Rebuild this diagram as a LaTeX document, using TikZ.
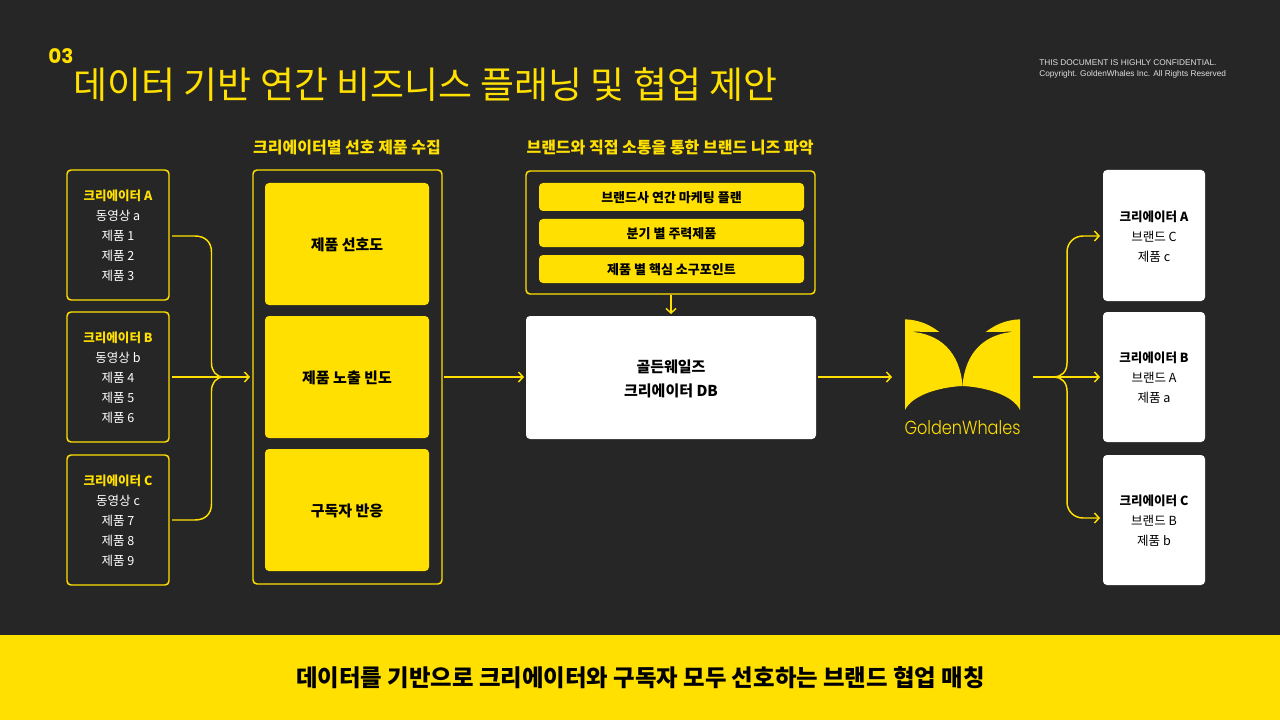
\documentclass[tikz,border=0pt]{standalone}
\usepackage{fontspec}
\usetikzlibrary{arrows.meta,calc}
\setmainfont{Noto Sans CJK KR}
\newfontfamily\latinui{Liberation Sans}
\newfontfamily\gwfont{Poppins Light}
\newfontfamily\numfont{Poppins}
\definecolor{bgdark}{HTML}{262626}
\definecolor{gold}{HTML}{FFE000}
\newcommand{\px}[2]{\fontsize{#1pt}{#2pt}\selectfont}
\tikzset{
  x=0.75pt,y=-0.75pt,
  base/.style={inner sep=0pt,outer sep=0pt,align=center,rounded corners=3pt},
  outline/.style={base,draw=gold,line width=1.1pt,text=white,font=\px{9.4}{15}},
  panel/.style={base,draw=gold,line width=1.1pt},
  goldbox/.style={base,fill=gold,text=black,font=\bfseries\px{11.25}{15}},
  goldbar/.style={base,fill=gold,text=black,font=\bfseries\px{9.75}{15}},
  whitebox/.style={base,fill=white,text=black,font=\px{9.4}{15}},
  dbbox/.style={base,fill=white,text=black,font=\bfseries\px{11.25}{18}},
  head/.style={inner sep=0pt,text=gold,font=\bfseries\px{12}{15}},
  conn/.style={draw=gold,line width=1.1pt,-{Straight Barb[length=3.4pt,width=7.5pt]}},
  plain/.style={draw=gold,line width=1.1pt},
}
\newcommand{\bx}[7]{%
  \pgfmathsetmacro{\boxw}{(#4-#2)*0.75}\pgfmathsetmacro{\boxh}{(#5-#3)*0.75}%
  \node[#6,minimum width=\boxw pt,minimum height=\boxh pt] (#1) at ({(#2+#4)/2},{(#3+#5)/2}) {};
  \node[#6,draw=none,fill=none] (#1t) at ([yshift=-0.75pt]#1.center) {#7};}
\begin{document}
\begin{tikzpicture}
\useasboundingbox (0,0) rectangle (1280,720);
\fill[bgdark] (0,0) rectangle (1280,720);
\fill[gold] (0,635) rectangle (1280,720);
% titles
\node[inner sep=0pt,anchor=west,text=gold,font=\numfont\bfseries\px{15}{15}] (num) at (48,56) {03};
\node[inner sep=0pt,anchor=west,text=gold,font=\px{27.7}{30}] (title) at (73.5,84.5) {데이터 기반 연간 비즈니스 플래닝 및 협업 제안};
\node[inner sep=0pt,anchor=west,align=left,text=white!88!black,font=\latinui\px{6.22}{8.4}] (conf) at (1039,69) {THIS DOCUMENT IS HIGHLY CONFIDENTIAL.\\Copyright. GoldenWhales Inc. All Rights Reserved};
\node[head] (h1) at (347,147.5) {크리에이터별 선호 제품 수집};
\node[head] (h2) at (670,147.5) {브랜드와 직접 소통을 통한 브랜드 니즈 파악};
\node[inner sep=0pt,text=black,font=\bfseries\px{17.55}{20}] (foot) at (640.5,678) {데이터를 기반으로 크리에이터와 구독자 모두 선호하는 브랜드 협업 매칭};
% left boxes
\bx{la}{67}{170}{169}{300}{outline}{{\bfseries\color{gold}크리에이터 A}\\동영상 a\\제품 1\\제품 2\\제품 3}
\bx{lb}{67}{312}{169}{442}{outline}{{\bfseries\color{gold}크리에이터 B}\\동영상 b\\제품 4\\제품 5\\제품 6}
\bx{lc}{67}{455}{169}{585}{outline}{{\bfseries\color{gold}크리에이터 C}\\동영상 c\\제품 7\\제품 8\\제품 9}
% middle panel
\bx{mid}{253}{170}{442}{584}{panel}{}
\bx{m1}{265}{183}{429}{305}{goldbox}{제품 선호도}
\bx{m2}{265}{316}{429}{438}{goldbox}{제품 노출 빈도}
\bx{m3}{265}{449}{429}{571}{goldbox}{구독자 반응}
% brand panel
\bx{br}{526}{171}{815}{294}{panel}{}
\bx{b1}{539}{183}{804}{211}{goldbar}{브랜드사 연간 마케팅 플랜}
\bx{b2}{539}{219}{804}{247}{goldbar}{분기 별 주력제품}
\bx{b3}{539}{255}{804}{283}{goldbar}{제품 별 핵심 소구포인트}
\bx{db}{526}{316}{816}{439}{dbbox}{골든웨일즈\\크리에이터 DB}
% right boxes
\bx{ra}{1103}{170}{1205}{301}{whitebox}{{\bfseries 크리에이터 A}\\브랜드 C\\제품 c}
\bx{rb}{1103}{312}{1205}{442}{whitebox}{{\bfseries 크리에이터 B}\\브랜드 A\\제품 a}
\bx{rc}{1103}{455}{1205}{585}{whitebox}{{\bfseries 크리에이터 C}\\브랜드 B\\제품 b}
% logo
\fill[gold] (905,319.3) .. controls (920,320) and (930,325) .. (939.3,332) -- (908.5,331.6)
  .. controls (940,333) and (960,352) .. (962.5,386) .. controls (940,387) and (912,395) .. (905,410) -- cycle;
\fill[gold] (1020,319.3) .. controls (1005,320) and (995,325) .. (985.7,332) -- (1016.5,331.6)
  .. controls (985,333) and (965,352) .. (962.5,386) .. controls (985,387) and (1013,395) .. (1020,410) -- cycle;
\node[inner sep=0pt,text=gold,font=\gwfont\px{14.2}{16}] (gw) at (962.5,428) {\scalebox{0.85}[1]{GoldenWhales}};
\coordinate (logoW) at (905,377);
\coordinate (logoE) at (1020,377);
% connectors left
\coordinate (jl) at (224,377);
\draw[plain] ([xshift=2.25pt]la.east |- 0,236) -- (195,236) .. controls (205,236) and (211.5,242) .. (211.5,252) -- (211.5,363) .. controls (211.5,371) and (216,377) .. (jl);
\draw[plain] ([xshift=2.25pt]lc.east |- 0,520) -- (195,520) .. controls (205,520) and (211.5,514) .. (211.5,504) -- (211.5,391) .. controls (211.5,383) and (216,377) .. (jl);
\draw[conn] ([xshift=2.25pt]lb.east) -- ([xshift=-2.25pt]mid.west |- jl);
% centre connectors
\draw[conn] ([xshift=1.5pt]mid.east |- jl) -- ([xshift=-1.5pt]db.west |- jl);
\draw[conn] ([yshift=-0.75pt]br.south -| 671,0) -- ([yshift=1.5pt]db.north -| 671,0);
\draw[conn] ([xshift=1.5pt]db.east |- jl) -- ([xshift=-9.75pt]logoW);
% connectors right
\coordinate (jr) at (1054,377);
\draw[conn] ([xshift=9.75pt]logoE) -- ([xshift=-2.25pt]rb.west);
\draw[conn] (jr) .. controls (1061,377) and (1067,372) .. (1067,363) -- (1067,252) .. controls (1067,243) and (1074,236) .. (1083,236) -- ([xshift=-2.25pt]ra.west |- 0,236);
\draw[conn] (jr) .. controls (1061,377) and (1067,382) .. (1067,391) -- (1067,502) .. controls (1067,511) and (1074,518) .. (1083,518) -- ([xshift=-2.25pt]rc.west |- 0,518);
\end{tikzpicture}
\end{document}
